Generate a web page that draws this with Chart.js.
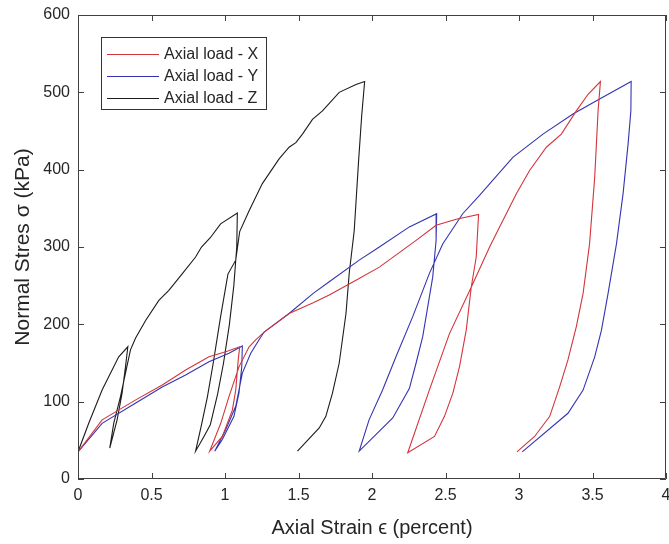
<!DOCTYPE html>
<html>
<head>
<meta charset="utf-8">
<script src="https://cdn.jsdelivr.net/npm/chart.js@4"></script>
<style>
  html, body { margin: 0; padding: 0; background: #fff; }
  #wrap { width: 669px; height: 544px; position: relative; }
</style>
</head>
<body>
<div id="wrap"><canvas id="chart" width="669" height="544"></canvas></div>
<script>
// axial load X (red)
const strainX = [0, 0.164, 0.39, 0.573, 0.732, 0.891, 1.005, 1.1, 1.09, 1.073, 1.05, 0.982, 0.896,
  0.971, 1.027, 1.095, 1.164, 1.209, 1.266, 1.436, 1.6, 1.709, 1.891, 2.05, 2.209, 2.3, 2.436, 2.573, 2.725,
  2.709, 2.675, 2.641, 2.595, 2.55, 2.493, 2.425, 2.243,
  2.39, 2.527, 2.675, 2.8, 2.868, 2.982, 3.072, 3.186, 3.288, 3.39, 3.47, 3.554,
  3.538, 3.515, 3.48, 3.436, 3.39, 3.333, 3.277, 3.209, 3.106, 2.986];
const stressX = [35, 76.5, 102, 121.6, 141, 158, 164.6, 171, 154, 115, 89, 55, 36,
  72, 106.6, 145, 171, 180, 190, 214, 228, 238, 257, 274, 296, 308.5, 328, 336, 342,
  287, 248, 192.5, 145, 111, 81, 55, 34,
  115, 188, 248, 300, 326, 369, 399, 429, 446, 476, 497.5, 514,
  476, 390, 304, 240, 197, 154, 119.5, 81, 55, 35];

// axial load Y (blue)
const strainY = [0, 0.164, 0.39, 0.573, 0.732, 0.891, 1.027, 1.118, 1.114, 1.095, 1.061, 0.982, 0.93,
  1.005, 1.073, 1.118, 1.175, 1.232, 1.266, 1.436, 1.6, 1.709, 1.913, 2.05, 2.254, 2.44,
  2.436, 2.413, 2.379, 2.345, 2.3, 2.254, 2.141, 1.913,
  1.98, 2.072, 2.163, 2.277, 2.39, 2.481, 2.617, 2.73, 2.958, 3.163, 3.367, 3.527, 3.763,
  3.761, 3.742, 3.708, 3.663, 3.606, 3.561, 3.515, 3.436, 3.333, 3.022];
const stressY = [35, 72, 98, 119, 134.5, 151.7, 162.5, 172, 145, 111, 81, 51, 36,
  64, 94, 137, 162.5, 180, 190, 214, 240, 255, 283, 300, 326, 343,
  308.5, 261, 222.5, 184, 150, 117, 79, 36,
  76.5, 115, 158, 210, 265.6, 304, 343, 366.5, 416, 446, 472, 489, 514,
  476, 433, 369, 304, 240, 192.5, 158, 115, 85, 35];

// axial load Z (black)
const strainZ = [0, 0.073, 0.164, 0.277, 0.339, 0.323, 0.3, 0.266, 0.216,
  0.243, 0.289, 0.323, 0.357, 0.391, 0.46, 0.55, 0.618, 0.71, 0.8, 0.84, 0.9, 0.97, 1.084,
  1.08, 1.06, 1.03, 0.99, 0.95, 0.9, 0.857, 0.8,
  0.84, 0.88, 0.92, 0.97, 1.02, 1.073, 1.1, 1.164, 1.254, 1.368, 1.436, 1.482, 1.527, 1.595, 1.663, 1.777, 1.891, 1.95,
  1.93, 1.909, 1.879, 1.845, 1.823, 1.777, 1.731, 1.686, 1.641, 1.493];
const stressZ = [35, 72, 115, 158, 171, 145, 111, 76.5, 40,
  72, 106.6, 137, 167, 182, 205, 231, 244, 265.6, 287, 300, 312, 330, 344,
  300, 250, 200, 150, 110, 70, 55, 36,
  70, 106, 150, 210, 265, 283, 320, 347, 382, 414, 429, 435, 446, 465, 476, 500, 510, 514,
  470, 412, 321, 266, 214, 150, 111, 81, 66, 36];

const seriesLabels = ['Axial load - X', 'Axial load - Y', 'Axial load - Z'];
const xTicks = [0, 0.5, 1, 1.5, 2, 2.5, 3, 3.5, 4];
const yTicks = [0, 100, 200, 300, 400, 500, 600];

const axisColor = '#404040';
const textColor = '#262626';
const fontFam = '"Liberation Sans", Arial, sans-serif';

function pts(xs, ys) {
  return xs.map((x, i) => ({ x: x, y: ys[i] }));
}

// box round the plot with ticks pointing inward (matlab style)
const boxPlugin = {
  id: 'box',
  afterDraw(chart) {
    const ctx = chart.ctx;
    const a = chart.chartArea;
    const sx = chart.scales.x, sy = chart.scales.y;
    ctx.save();
    ctx.strokeStyle = axisColor;
    ctx.lineWidth = 1;
    ctx.beginPath();
    ctx.rect(a.left + 0.5, a.top + 0.5, a.right - a.left - 1, a.bottom - a.top - 1);
    xTicks.forEach(v => {
      const p = Math.round(sx.getPixelForValue(v)) + 0.5;
      ctx.moveTo(p, a.bottom); ctx.lineTo(p, a.bottom - 6);
      ctx.moveTo(p, a.top); ctx.lineTo(p, a.top + 6);
    });
    yTicks.forEach(v => {
      const p = Math.round(sy.getPixelForValue(v)) + 0.5;
      ctx.moveTo(a.left, p); ctx.lineTo(a.left + 6, p);
      ctx.moveTo(a.right, p); ctx.lineTo(a.right - 6, p);
    });
    ctx.stroke();

    // legend
    const lx = 101, ly = 37, lw = 165, lh = 72;
    ctx.fillStyle = '#fff';
    ctx.fillRect(lx, ly, lw, lh);
    ctx.strokeStyle = '#333';
    ctx.strokeRect(lx + 0.5, ly + 0.5, lw, lh);
    ctx.font = '16px ' + fontFam;
    ctx.textBaseline = 'middle';
    chart.data.datasets.forEach((ds, i) => {
      const yy = ly + 17 + i * 22;
      ctx.strokeStyle = ds.borderColor;
      ctx.beginPath();
      ctx.moveTo(lx + 6, yy + 0.5); ctx.lineTo(lx + 58, yy + 0.5);
      ctx.stroke();
      ctx.fillStyle = textColor;
      ctx.fillText(ds.label, lx + 63, yy + 1);
    });
    ctx.restore();
  }
};

new Chart(document.getElementById('chart').getContext('2d'), {
  type: 'line',
  data: {
    datasets: [
      { label: seriesLabels[0], data: pts(strainX, stressX), borderColor: '#d2353b' },
      { label: seriesLabels[1], data: pts(strainY, stressY), borderColor: '#3434b2' },
      { label: seriesLabels[2], data: pts(strainZ, stressZ), borderColor: '#1c1c1c' }
    ]
  },
  options: {
    responsive: false,
    animation: false,
    layout: { padding: { top: 15, right: 3 } },
    elements: {
      point: { radius: 0 },
      line: { borderWidth: 1.1, tension: 0 }
    },
    plugins: {
      legend: { display: false },
      tooltip: { enabled: false }
    },
    scales: {
      x: {
        type: 'linear',
        min: 0, max: 4,
        afterFit(s) { s.height = 65; s.paddingLeft = 0; s.paddingRight = 0; },
        afterBuildTicks(s) { s.ticks = xTicks.map(v => ({ value: v })); },
        grid: { display: false, drawTicks: false },
        border: { display: false },
        ticks: {
          color: textColor, padding: 7, maxRotation: 0, autoSkip: false,
          font: { size: 16, family: fontFam },
          callback: v => String(v)
        },
        title: {
          display: true, text: 'Axial Strain ϵ (percent)', color: textColor,
          font: { size: 20, family: fontFam }, padding: { top: 0, bottom: 4 }
        }
      },
      y: {
        min: 0, max: 600,
        afterFit(s) { s.width = 78; s.paddingTop = 0; s.paddingBottom = 0; },
        afterBuildTicks(s) { s.ticks = yTicks.map(v => ({ value: v })); },
        grid: { display: false, drawTicks: false },
        border: { display: false },
        ticks: {
          color: textColor, padding: 8, autoSkip: false,
          font: { size: 16, family: fontFam },
          callback: v => String(v)
        },
        title: {
          display: true, text: 'Normal Stres σ (kPa)', color: textColor,
          font: { size: 21, family: fontFam }, padding: { top: 11, bottom: 0 }
        }
      }
    }
  },
  plugins: [boxPlugin]
});
</script>
</body>
</html>
